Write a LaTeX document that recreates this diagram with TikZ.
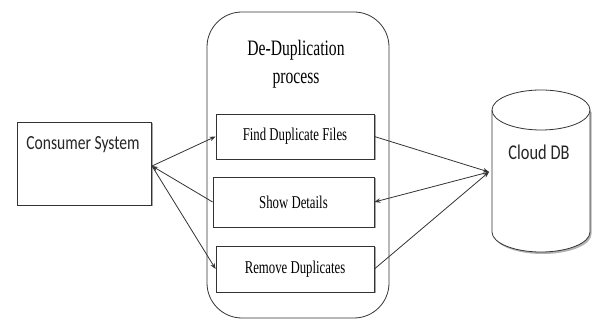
\documentclass[tikz,border=0pt]{standalone}
\usepackage{fontspec}
\usetikzlibrary{arrows.meta,shadows}
\newfontfamily\procfont[FakeStretch=0.71]{Liberation Serif}
\newfontfamily\labfont[FakeStretch=0.78]{Carlito}
\definecolor{ink}{HTML}{333333}
\tikzset{
  conn/.style={draw=ink, line width=0.8pt, -{Stealth[length=6pt,width=4.5pt]}},
  plainbox/.style={draw=ink, line width=0.8pt, fill=white, rectangle, inner sep=0pt,
    drop shadow={shadow xshift=1.5pt, shadow yshift=-1.5pt, fill=gray!70, opacity=1}},
  stepbox/.style={plainbox, font=\procfont\fontsize{18}{21}\selectfont},
  sanslabel/.style={inner sep=0pt, font=\labfont\fontsize{20}{24}\selectfont, text=black!85},
}
\begin{document}
\begin{tikzpicture}[x=1pt, y=-1pt]
\useasboundingbox (0,0) rectangle (592,320);

% consumer system
\node[plainbox, minimum width=134pt, minimum height=83pt] (cons) at (84,163.5) {};
\node[sanslabel] (constext) at (83,145) {Consumer System};
\coordinate (cp) at (152,166);

% de-duplication process container
\node[draw=ink, line width=0.8pt, rounded corners=35pt, minimum width=182pt,
      minimum height=306pt, inner sep=0pt] (proc) at (298,165) {};
\node[align=center, inner sep=0pt, font=\procfont\fontsize{22}{28}\selectfont] (title) at (296,64)
  {De-Duplication\\process};

\node[stepbox, minimum width=158pt, minimum height=45pt] (find) at (295,136.5) {Find Duplicate Files};
\node[stepbox, minimum width=161pt, minimum height=50pt] (show) at (293.5,202) {Show Details};
\node[stepbox, minimum width=158pt, minimum height=46pt] (rem) at (295,269) {Remove Duplicates};

% cloud database cylinder
\fill[gray!60] (493.5,112) -- (493.5,234) arc[start angle=180, end angle=0, x radius=49, y radius=20] -- (591.5,112) -- cycle;
\fill[white] (492,110) -- (492,232) arc[start angle=180, end angle=0, x radius=49, y radius=20] -- (590,110) -- cycle;
\draw[ink, line width=0.8pt]
  (492,110) -- (492,232) arc[start angle=180, end angle=0, x radius=49, y radius=20] -- (590,110);
\draw[ink, line width=0.8pt, fill=white] (541,110) ellipse [x radius=49, y radius=20];
\node[minimum width=98pt, minimum height=162pt, inner sep=0pt] (db) at (541,171) {};
\node[sanslabel, font=\labfont\fontsize{21}{24}\selectfont] (dbtext) at (539,152) {Cloud DB};
\coordinate (dp) at (489,172);

% connectors
\draw[conn] (cp) -- (find.west);
\draw[conn] (show.west) -- (cp);
\draw[conn] (cp) -- (rem.west);
\draw[conn] (find.east) -- (dp);
\draw[conn] (dp) -- (show.east);
\draw[conn] (rem.east) -- (dp);
\end{tikzpicture}
\end{document}
